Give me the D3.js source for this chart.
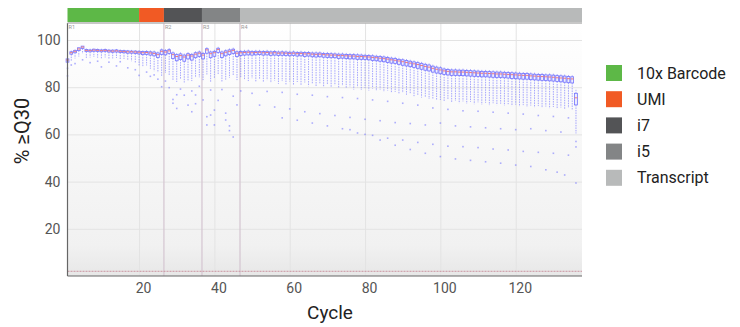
<!DOCTYPE html>
<html>
<head>
<meta charset="utf-8">
<script src="https://cdn.jsdelivr.net/npm/d3@7"></script>
<style>
  body { margin: 0; background: #fff; }
  svg { font-family: Roboto, "Noto Sans", sans-serif; }
</style>
</head>
<body>
<div id="chart"></div>
<script>
// segments of the read layout (cycle units)
var segments = ["10x Barcode", "UMI", "i7", "i5", "Transcript"];
var segColors = ["#5db847", "#f15a24", "#535456", "#838586", "#b8baba"];
var segBounds = [1, 20, 26.6, 36.7, 46.8, 137.6];
var readStarts = [26.6, 36.7, 46.8];
var readLabels = ["R1", "R2", "R3", "R4"];
var xTicks = [20, 40, 60, 80, 100, 120];
var yTicks = [20, 40, 60, 80, 100];
var baseLine = 2;

// per cycle box stats, cycle 1..136
var medians = [91.5, 94.6, 95.2, 96.2, 97.0, 95.6, 95.5, 95.7, 95.6, 95.5,
  95.6, 95.4, 95.3, 95.4, 95.2, 95.1, 95.0, 95.0, 94.9, 94.8,
  94.6, 94.7, 94.5, 94.3, 93.8, 95.2, 94.9, 95.4, 93.8, 93.0,
  93.4, 92.8, 93.6, 93.2, 94.0, 94.4, 93.6, 95.8, 94.2, 94.6,
  96.0, 94.2, 94.8, 95.2, 95.6, 94.4, 94.6, 94.7, 94.8, 94.6,
  94.7, 94.8, 94.6, 94.7, 94.5, 94.6, 94.4, 94.5, 94.4, 94.3,
  94.4, 94.2, 94.3, 94.1, 94.2, 94.0, 93.9, 94.0, 93.8, 93.7,
  93.6, 93.6, 93.4, 93.4, 93.3, 93.2, 93.2, 93.0, 93.0, 92.9,
  92.8, 92.6, 92.5, 92.3, 92.1, 91.9, 91.6, 91.4, 91.1, 90.8,
  90.5, 90.2, 89.9, 89.6, 89.2, 88.8, 88.5, 88.0, 87.6, 87.3,
  86.9, 86.7, 86.5, 86.5, 86.4, 86.4, 86.3, 86.2, 86.1, 86.0,
  85.9, 85.9, 85.8, 85.7, 85.6, 85.6, 85.5, 85.4, 85.3, 85.2,
  85.1, 85.0, 85.0, 84.8, 84.7, 84.6, 84.5, 84.4, 84.3, 84.2,
  84.0, 83.9, 83.8, 83.6, 83.5, 75.5];
// q3 - median
var boxRise = [0.5, 0.4, 0.4, 0.5, 0.4, 0.4, 0.3, 0.4, 0.4, 0.3,
  0.4, 0.3, 0.4, 0.4, 0.3, 0.4, 0.4, 0.3, 0.4, 0.4,
  0.5, 0.4, 0.5, 0.6, 0.7, 0.6, 0.6, 0.5, 0.7, 0.8,
  0.7, 0.8, 0.6, 0.7, 0.6, 0.5, 0.7, 0.5, 0.7, 0.6,
  0.5, 0.7, 0.6, 0.6, 0.5, 0.6, 0.5, 0.5, 0.5, 0.5,
  0.5, 0.4, 0.5, 0.5, 0.5, 0.5, 0.5, 0.5, 0.5, 0.5,
  0.5, 0.5, 0.5, 0.6, 0.5, 0.5, 0.6, 0.5, 0.5, 0.6,
  0.6, 0.5, 0.6, 0.6, 0.6, 0.6, 0.6, 0.7, 0.6, 0.6,
  0.6, 0.7, 0.6, 0.7, 0.7, 0.7, 0.7, 0.8, 0.7, 0.8,
  0.8, 0.8, 0.8, 0.8, 0.9, 0.9, 0.9, 0.9, 0.9, 0.9,
  0.8, 0.8, 0.8, 0.8, 0.8, 0.8, 0.8, 0.8, 0.8, 0.8,
  0.8, 0.8, 0.8, 0.8, 0.8, 0.8, 0.8, 0.8, 0.8, 0.8,
  0.8, 0.8, 0.8, 0.8, 0.8, 0.8, 0.9, 0.8, 0.9, 0.9,
  0.9, 0.9, 0.9, 0.9, 0.9, 1.9];
// median - q1
var boxDepth = [0.9, 0.6, 0.6, 0.7, 0.6, 0.5, 0.5, 0.5, 0.5, 0.5,
  0.5, 0.5, 0.5, 0.5, 0.5, 0.5, 0.6, 0.6, 0.6, 0.7,
  0.8, 0.8, 0.9, 1.0, 1.2, 1.3, 1.2, 1.1, 1.6, 1.8,
  1.7, 1.8, 1.6, 1.7, 1.5, 1.4, 1.6, 1.4, 1.7, 1.5,
  1.3, 1.6, 1.5, 1.4, 1.3, 1.4, 1.2, 1.1, 1.1, 1.0,
  1.0, 1.0, 1.0, 1.0, 1.0, 1.0, 1.0, 1.0, 1.0, 1.0,
  1.0, 1.0, 1.0, 1.1, 1.0, 1.1, 1.1, 1.1, 1.1, 1.1,
  1.1, 1.1, 1.2, 1.1, 1.2, 1.2, 1.2, 1.2, 1.2, 1.2,
  1.2, 1.3, 1.3, 1.3, 1.3, 1.4, 1.4, 1.4, 1.4, 1.5,
  1.5, 1.5, 1.5, 1.6, 1.6, 1.6, 1.6, 1.6, 1.6, 1.6,
  1.5, 1.5, 1.5, 1.5, 1.5, 1.5, 1.5, 1.5, 1.5, 1.5,
  1.5, 1.5, 1.5, 1.5, 1.5, 1.5, 1.5, 1.5, 1.6, 1.6,
  1.6, 1.6, 1.6, 1.6, 1.6, 1.6, 1.6, 1.6, 1.6, 1.6,
  1.6, 1.6, 1.7, 1.7, 1.7, 3.0];
// upper whisker - median
var upperReach = [1.0, 0.9, 0.8, 0.6, 0.4, 0.8, 0.8, 0.7, 0.8, 0.8,
  0.8, 0.8, 0.8, 0.8, 0.8, 0.8, 0.8, 0.8, 0.8, 0.9,
  1.0, 1.0, 1.1, 1.2, 1.3, 1.2, 1.3, 1.2, 1.6, 1.8,
  1.7, 1.8, 1.6, 1.7, 1.5, 1.4, 1.6, 1.2, 1.6, 1.5,
  1.1, 1.6, 1.5, 1.3, 1.2, 1.5, 1.4, 1.4, 1.4, 1.4,
  1.4, 1.4, 1.4, 1.4, 1.4, 1.4, 1.4, 1.4, 1.4, 1.4,
  1.4, 1.4, 1.4, 1.5, 1.4, 1.5, 1.5, 1.5, 1.5, 1.5,
  1.5, 1.5, 1.5, 1.5, 1.5, 1.5, 1.6, 1.6, 1.6, 1.6,
  1.6, 1.6, 1.6, 1.7, 1.7, 1.7, 1.7, 1.8, 1.8, 1.8,
  1.8, 1.8, 1.8, 1.9, 1.9, 1.9, 1.9, 1.9, 1.9, 1.9,
  1.8, 1.8, 1.8, 1.8, 1.8, 1.8, 1.8, 1.8, 1.8, 1.8,
  1.8, 1.8, 1.8, 1.8, 1.8, 1.8, 1.8, 1.8, 1.8, 1.8,
  1.8, 1.8, 1.8, 1.8, 1.8, 1.8, 1.8, 1.8, 1.8, 1.8,
  1.8, 1.8, 1.8, 1.8, 1.8, 3.4];
// lower whisker end (absolute %)
var whiskerLow = [86.4, 91.0, 92.2, 93.0, 94.2, 92.4, 92.6, 92.8, 92.5, 92.2,
  92.6, 92.0, 92.2, 92.4, 91.8, 92.0, 91.6, 91.0, 90.2, 89.0,
  88.6, 89.2, 87.8, 86.8, 86.2, 84.4, 86.0, 85.2, 83.0, 82.2,
  83.4, 82.0, 82.8, 82.6, 84.0, 84.2, 83.0, 85.4, 82.2, 83.6,
  85.2, 82.4, 83.2, 84.0, 85.0, 83.0, 84.0, 83.2, 82.6, 83.8,
  82.4, 83.6, 82.2, 83.0, 81.8, 82.8, 81.4, 82.6, 81.2, 82.4,
  80.8, 82.2, 81.0, 82.0, 80.4, 81.6, 80.2, 81.4, 80.0, 81.0,
  79.8, 80.8, 79.6, 80.6, 79.4, 80.2, 79.0, 80.0, 78.8, 79.6,
  78.6, 79.4, 78.4, 79.0, 78.0, 78.6, 77.6, 78.0, 77.2, 77.6,
  76.8, 77.2, 76.2, 76.6, 75.6, 75.8, 75.0, 75.2, 74.4, 74.6,
  73.8, 74.6, 73.4, 74.2, 73.2, 74.0, 73.0, 73.8, 72.8, 73.6,
  72.6, 73.4, 72.4, 73.2, 72.4, 73.0, 72.2, 72.8, 72.0, 72.6,
  71.8, 72.4, 71.6, 72.2, 71.4, 72.0, 71.2, 71.8, 71.0, 71.6,
  70.8, 71.4, 70.6, 71.2, 70.4, 60.4];

// outliers [cycle, %]
var outliers = [
  [1, 84.8], [1, 88.0], [2, 89.4], [3, 90.0], [5, 91.6], [7, 90.4], [9, 91.0], [10, 88.6],
  [12, 90.6], [14, 89.0], [15, 90.8], [17, 88.2], [19, 87.4], [20, 85.0], [22, 86.4],
  [23, 84.6], [24, 85.2], [25, 83.4],
  [26, 80.2], [27, 82.6], [28, 79.8], [29, 74.8], [29, 73.2], [30, 71.0], [30, 76.8],
  [31, 79.2], [32, 76.6], [33, 72.4], [34, 69.6], [34, 78.4], [35, 73.0], [35, 76.7],
  [36, 80.4], [37, 74.6], [38, 67.5], [38, 64.0], [39, 68.2], [39, 78.8], [40, 70.3],
  [40, 64.0], [41, 74.4], [42, 79.0], [43, 69.0], [43, 66.1], [44, 61.6], [44, 63.6],
  [45, 58.9], [45, 76.2], [46, 72.5], [47, 78.4],
  [50, 77.4], [54, 78.2], [58, 77.8], [62, 77.0], [66, 76.6], [70, 76.0], [74, 75.6],
  [78, 75.2], [82, 74.6], [86, 74.0], [90, 73.2], [94, 72.4], [98, 71.2], [102, 70.6],
  [106, 70.0], [110, 69.8], [114, 69.4], [118, 69.0], [122, 68.6], [126, 68.0],
  [130, 67.6], [134, 67.0],
  [52, 72.4], [56, 71.6], [60, 70.8], [64, 69.6], [68, 68.8], [72, 68.0], [76, 67.2],
  [80, 66.4], [84, 65.8], [88, 65.0], [92, 64.6], [96, 64.0], [100, 64.8], [104, 63.6],
  [108, 63.2], [112, 62.8], [116, 62.4], [120, 62.0], [124, 62.4], [128, 61.6],
  [132, 61.0], [136, 57.0], [136, 54.7],
  [58, 67.0], [62, 66.0], [66, 64.8], [70, 63.6], [74, 62.4], [78, 60.6], [82, 59.6],
  [86, 58.4], [90, 57.6], [94, 56.6], [98, 55.8], [102, 55.0], [106, 54.8], [110, 54.4],
  [114, 53.8], [118, 53.4], [122, 52.8], [126, 52.4], [130, 52.0], [134, 51.2],
  [76, 62.0], [80, 60.0], [84, 57.6], [88, 55.4], [92, 53.6], [96, 52.0], [100, 50.6],
  [104, 49.6], [108, 49.0], [112, 48.4], [116, 47.8], [120, 47.0], [124, 46.4],
  [128, 45.0], [131, 44.0], [133, 42.8], [136, 39.4]
];

var W = 740, H = 327;
var plotLeft = 67.5, plotRight = 582, plotTop = 23, plotBottom = 276;

var svg = d3.select("#chart").append("svg")
  .attr("width", W).attr("height", H);

var x = d3.scaleLinear().domain([segBounds[0], segBounds[segBounds.length - 1]]).range([plotLeft, plotRight]);
var y = d3.scaleLinear().domain([0, 107.2]).range([plotBottom, plotTop]);

// plot background
var defs = svg.append("defs");
var grad = defs.append("linearGradient").attr("id", "bg")
  .attr("x1", 0).attr("y1", 0).attr("x2", 0).attr("y2", 1);
grad.append("stop").attr("offset", "0%").attr("stop-color", "#ffffff");
grad.append("stop").attr("offset", "88%").attr("stop-color", "#f1f1f1");
grad.append("stop").attr("offset", "100%").attr("stop-color", "#e7e7e7");

svg.append("rect")
  .attr("x", plotLeft).attr("y", plotTop)
  .attr("width", plotRight - plotLeft).attr("height", plotBottom - plotTop)
  .attr("fill", "url(#bg)");

// gridlines
svg.append("g")
  .attr("transform", "translate(" + plotLeft + ",0)")
  .call(d3.axisLeft(y).tickValues(yTicks).tickSize(-(plotRight - plotLeft)).tickFormat(""))
  .call(function (g) {
    g.select(".domain").remove();
    g.selectAll("line").attr("stroke", "#e3e3e3");
  });
svg.append("g")
  .attr("transform", "translate(0," + plotBottom + ")")
  .call(d3.axisBottom(x).tickValues(xTicks).tickSize(-(plotBottom - plotTop)).tickFormat(""))
  .call(function (g) {
    g.select(".domain").remove();
    g.selectAll("line").attr("stroke", "#e3e3e3");
  });

// read boundary lines
svg.selectAll(".readline").data(readStarts).enter().append("line")
  .attr("x1", function (d) { return x(d); })
  .attr("x2", function (d) { return x(d); })
  .attr("y1", plotTop).attr("y2", plotBottom)
  .attr("stroke", "#d6c8d3").attr("stroke-width", 1.3);

svg.selectAll(".readlabel").data([segBounds[0]].concat(readStarts)).enter().append("text")
  .attr("x", function (d) { return x(d) + 1; })
  .attr("y", 28.5)
  .attr("font-size", 5.5)
  .attr("fill", "#999")
  .text(function (d, i) { return readLabels[i]; });

// base dashed line
svg.append("line")
  .attr("x1", plotLeft).attr("x2", plotRight)
  .attr("y1", y(baseLine)).attr("y2", y(baseLine))
  .attr("stroke", "#c9929e").attr("stroke-width", 1)
  .attr("stroke-dasharray", "2,1");

// box plots
var cycles = d3.range(1, medians.length + 1);
var bw = 2.8;
var boxes = svg.append("g").selectAll("g").data(cycles).enter().append("g");

boxes.append("line")
  .attr("x1", function (c) { return x(c); })
  .attr("x2", function (c) { return x(c); })
  .attr("y1", function (c, i) { return y(medians[i] - boxDepth[i]); })
  .attr("y2", function (c, i) { return y(whiskerLow[i]); })
  .attr("stroke", "#6a6aff").attr("stroke-opacity", 0.6)
  .attr("stroke-width", 1).attr("stroke-dasharray", "1.5,1");

boxes.append("line")
  .attr("x1", function (c) { return x(c); })
  .attr("x2", function (c) { return x(c); })
  .attr("y1", function (c, i) { return y(medians[i] + boxRise[i]); })
  .attr("y2", function (c, i) { return y(medians[i] + upperReach[i]); })
  .attr("stroke", "#6a6aff").attr("stroke-opacity", 0.6)
  .attr("stroke-width", 1).attr("stroke-dasharray", "1.5,1");

svg.append("g").selectAll("rect").data(outliers).enter().append("rect")
  .attr("x", function (d) { return x(d[0]) - 0.8; })
  .attr("y", function (d) { return y(d[1]) - 0.8; })
  .attr("width", 1.6).attr("height", 1.6)
  .attr("fill", "#7070ff").attr("fill-opacity", 0.55);

boxes.append("rect")
  .attr("x", function (c) { return x(c) - bw / 2; })
  .attr("y", function (c, i) { return y(medians[i] + boxRise[i]); })
  .attr("width", bw)
  .attr("height", function (c, i) { return y(medians[i] - boxDepth[i]) - y(medians[i] + boxRise[i]); })
  .attr("fill", "#e4e4ff").attr("fill-opacity", 0.6)
  .attr("stroke", "#5555ff").attr("stroke-opacity", 0.8).attr("stroke-width", 0.8);

boxes.append("line")
  .attr("x1", function (c) { return x(c) - bw / 2; })
  .attr("x2", function (c) { return x(c) + bw / 2; })
  .attr("y1", function (c, i) { return y(medians[i]); })
  .attr("y2", function (c, i) { return y(medians[i]); })
  .attr("stroke", "#f07070").attr("stroke-width", 0.9);

// axes
svg.append("g")
  .attr("transform", "translate(" + plotLeft + ",0)")
  .call(d3.axisLeft(y).tickValues(yTicks).tickSize(0).tickPadding(7))
  .call(function (g) {
    g.select(".domain").attr("stroke", "#666").attr("stroke-width", 1.2)
      .attr("d", "M0," + plotTop + "V" + plotBottom);
    g.selectAll("text").attr("font-size", 14).attr("fill", "#555")
      .attr("font-family", "Roboto, sans-serif");
  });

svg.append("g")
  .attr("transform", "translate(0," + plotBottom + ")")
  .call(d3.axisBottom(x).tickValues(xTicks).tickSize(0).tickPadding(7))
  .call(function (g) {
    g.select(".domain").attr("stroke", "#666").attr("stroke-width", 1.2)
      .attr("d", "M" + plotLeft + ",0H" + plotRight);
    g.selectAll("text").attr("font-size", 14).attr("fill", "#555").attr("dx", 4)
      .attr("font-family", "Roboto, sans-serif");
  });

// top rule under the color bar
svg.append("line")
  .attr("x1", plotLeft).attr("x2", plotRight)
  .attr("y1", plotTop).attr("y2", plotTop)
  .attr("stroke", "#b5b5b5").attr("stroke-width", 1.5);

// color bar
svg.selectAll(".seg").data(segments).enter().append("rect")
  .attr("x", function (d, i) { return x(segBounds[i]); })
  .attr("width", function (d, i) { return x(segBounds[i + 1]) - x(segBounds[i]); })
  .attr("y", 8).attr("height", 14)
  .attr("fill", function (d, i) { return segColors[i]; });

// axis titles
svg.append("text")
  .attr("x", 330).attr("y", 319)
  .attr("text-anchor", "middle")
  .attr("font-size", 19).attr("fill", "#222")
  .text("Cycle");

svg.append("text")
  .attr("transform", "translate(29,131) rotate(-90)")
  .attr("text-anchor", "middle")
  .attr("font-size", 20).attr("fill", "#222")
  .text("% ≥Q30");

// legend
var legend = svg.append("g").selectAll("g").data(segments).enter().append("g")
  .attr("transform", function (d, i) { return "translate(606," + (65 + i * 26.2) + ")"; });
legend.append("rect")
  .attr("width", 16).attr("height", 16)
  .attr("fill", function (d, i) { return segColors[i]; });
legend.append("text")
  .attr("x", 31).attr("y", 13.5)
  .attr("font-size", 16).attr("fill", "#222")
  .text(function (d) { return d; });
</script>
</body>
</html>
